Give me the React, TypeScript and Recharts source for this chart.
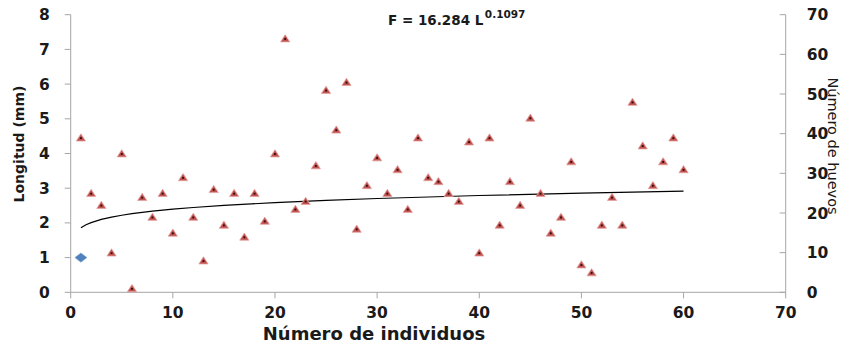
import React from "react";
import { ScatterChart, Scatter, XAxis, YAxis } from "recharts";

// Número de individuos (1..60) and Número de huevos (right axis)
const individuos = [
  1, 2, 3, 4, 5, 6, 7, 8, 9, 10, 11, 12, 13, 14, 15, 16, 17, 18, 19, 20,
  21, 22, 23, 24, 25, 26, 27, 28, 29, 30, 31, 32, 33, 34, 35, 36, 37, 38, 39, 40,
  41, 42, 43, 44, 45, 46, 47, 48, 49, 50, 51, 52, 53, 54, 55, 56, 57, 58, 59, 60,
];
const huevos = [
  39, 25, 22, 10, 35, 1, 24, 19, 25, 15, 29, 19, 8, 26, 17, 25, 14, 25, 18, 35,
  64, 21, 23, 32, 51, 41, 53, 16, 27, 34, 25, 31, 21, 39, 29, 28, 25, 23, 38, 10,
  39, 17, 28, 22, 44, 25, 15, 19, 33, 7, 5, 17, 24, 17, 48, 37, 27, 33, 39, 31,
];

// Longitud (mm), left axis
const longitudX = [1];
const longitudY = [1];

// Trend line (right axis)
const trendX = [1, 1.5, 2, 3, 4, 5, 6, 8, 10, 12, 15, 20, 25, 30, 40, 50, 60];
const trendY = [16.28, 17.03, 17.57, 18.37, 18.96, 19.43, 19.82, 20.46, 20.96, 21.39, 21.92, 22.62, 23.18, 23.65, 24.41, 25.01, 25.52];

const xTicks = [0, 10, 20, 30, 40, 50, 60, 70];
const leftTicks = [0, 1, 2, 3, 4, 5, 6, 7, 8];
const rightTicks = [0, 10, 20, 30, 40, 50, 60, 70];

const huevosData = individuos.map((x, i) => ({ x, y: huevos[i] }));
const longitudData = longitudX.map((x, i) => ({ x, y: longitudY[i] }));
const trendData = trendX.map((x, i) => ({ x, y: trendY[i] }));

const FONT = "'DejaVu Sans', Verdana, sans-serif";
const AXIS = "#a6a6a6";
const TEXT = "#1a1a1a";
const TICK_SIZE = 15.5;

const Triangle = (props: any) => {
  const { cx, cy } = props;
  if (cx == null || cy == null) return <g />;
  return (
    <g>
      <polygon
        points={`${cx},${cy - 3.8} ${cx - 4.6},${cy + 3.4} ${cx + 4.6},${cy + 3.4}`}
        fill="#C0504D"
        stroke="#e3a3a1"
        strokeWidth={0.8}
      />
      <rect x={cx - 0.9} y={cy - 0.4} width={1.8} height={1.8} fill="#2a0a0a" />
    </g>
  );
};

const Diamond = (props: any) => {
  const { cx, cy } = props;
  if (cx == null || cy == null) return <g />;
  return (
    <polygon
      points={`${cx},${cy - 4.6} ${cx + 6},${cy} ${cx},${cy + 4.6} ${cx - 6},${cy}`}
      fill="#4F81BD"
      stroke="#7a9fd0"
      strokeWidth={0.6}
    />
  );
};

const NoShape = () => <g />;

const RightTick = (props: any) => {
  const { x, y, payload } = props;
  const ax = x - 21;
  return (
    <g>
      <line x1={ax - 6} y1={y} x2={ax} y2={y} stroke={AXIS} strokeWidth={1} />
      <text
        x={x}
        y={y}
        dy="0.36em"
        textAnchor="start"
        fontFamily={FONT}
        fontWeight="bold"
        fontSize={TICK_SIZE}
        fill={TEXT}
      >
        {payload.value}
      </text>
    </g>
  );
};

const tickStyle = { fontFamily: FONT, fontWeight: "bold" as const, fontSize: TICK_SIZE, fill: TEXT };

export default function App() {
  return (
    <div style={{ position: "absolute", left: 0, top: 0, width: 846, height: 351, background: "#fff" }}>
      <ScatterChart
        width={846}
        height={351}
        margin={{ top: 14.7, right: 0, bottom: 0, left: 0 }}
      >
        <XAxis
          type="number"
          dataKey="x"
          domain={[0, 70]}
          ticks={xTicks}
          height={58.7}
          tickSize={6}
          tickMargin={9}
          stroke={AXIS}
          tick={tickStyle}
          interval={0}
        />
        <YAxis
          yAxisId="left"
          orientation="left"
          type="number"
          dataKey="y"
          domain={[0, 8]}
          ticks={leftTicks}
          width={70.7}
          tickSize={6}
          tickMargin={15}
          stroke={AXIS}
          tick={tickStyle}
          interval={0}
        />
        <YAxis
          yAxisId="right"
          orientation="right"
          type="number"
          dataKey="y"
          domain={[0, 70]}
          ticks={rightTicks}
          width={60.3}
          tickSize={6}
          tickMargin={15}
          stroke={AXIS}
          tickLine={false}
          tick={<RightTick />}
          interval={0}
        />
        <Scatter
          yAxisId="right"
          data={trendData}
          line={{ stroke: "#000", strokeWidth: 1.2 }}
          lineType="joint"
          shape={<NoShape />}
          isAnimationActive={false}
        />
        <Scatter
          yAxisId="right"
          data={huevosData}
          shape={<Triangle />}
          isAnimationActive={false}
        />
        <Scatter
          yAxisId="left"
          data={longitudData}
          shape={<Diamond />}
          isAnimationActive={false}
        />
      </ScatterChart>
      <svg
        width={846}
        height={351}
        style={{ position: "absolute", left: 0, top: 0, pointerEvents: "none" }}
      >
        <text
          x={374}
          y={339.5}
          textAnchor="middle"
          fontFamily={FONT}
          fontWeight="bold"
          fontSize={18}
          fill={TEXT}
        >
          Número de individuos
        </text>
        <text
          x={23.5}
          y={144}
          textAnchor="middle"
          transform="rotate(-90, 23.5, 144)"
          fontFamily={FONT}
          fontWeight="bold"
          fontSize={14}
          fill={TEXT}
        >
          Longitud (mm)
        </text>
        <text
          x={827.5}
          y={146}
          textAnchor="middle"
          transform="rotate(90, 827.5, 146)"
          fontFamily={FONT}
          fontSize={14.5}
          fill={TEXT}
        >
          Número de huevos
        </text>
        <text x={388} y={24.5} fontFamily={FONT} fontWeight="bold" fontSize={13.5} fill={TEXT}>
          F = 16.284 L
          <tspan fontSize={10.5} dy={-6.5} dx={1.5}>0.1097</tspan>
        </text>
      </svg>
    </div>
  );
}
